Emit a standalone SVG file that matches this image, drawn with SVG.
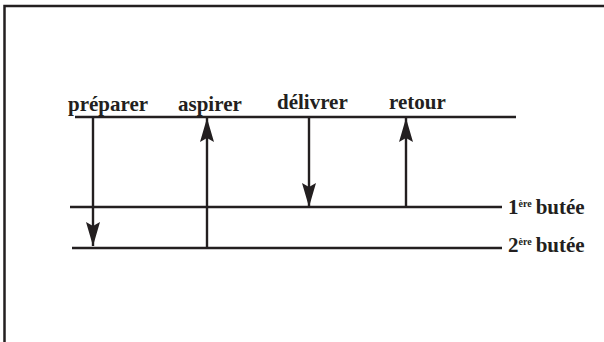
<svg xmlns="http://www.w3.org/2000/svg" width="604" height="342" viewBox="0 0 604 342">
<style>
.ln{stroke:#231f20;stroke-width:2.4;fill:none}
.frame{stroke:#231f20;stroke-width:2.5;fill:none}
text{font-family:'Liberation Serif','Times New Roman',serif;font-weight:700;font-size:21px;fill:#231f20}
.sup{font-size:10px}
</style>
<defs>
<marker id="ah" viewBox="0 0 24 14" refX="24" refY="7" markerWidth="24" markerHeight="14" markerUnits="userSpaceOnUse" orient="auto">
<path d="M0,0 L24,7 L0,14 L4,7 Z" fill="#231f20"/>
</marker>
</defs>
<rect width="604" height="342" fill="#fff"/>
<path class="frame" d="M4.5,342 V6 H604"/>
<g id="levels">
<g id="level-top"><line class="ln" x1="75" y1="117" x2="516" y2="117"/></g>
<g id="level-1"><line class="ln" x1="70" y1="207" x2="502" y2="207"/><text x="508" y="214">1<tspan class="sup" dy="-7">ère</tspan><tspan dy="7" dx="4">butée</tspan></text></g>
<g id="level-2"><line class="ln" x1="72" y1="248" x2="502" y2="248"/><text x="508" y="252">2<tspan class="sup" dy="-7">ère</tspan><tspan dy="7" dx="4">butée</tspan></text></g>
</g>
<g id="preparer"><text x="68" y="111">préparer</text></g>
<g id="aspirer"><text x="178" y="111">aspirer</text></g>
<g id="delivrer"><text x="277" y="109">délivrer</text></g>
<g id="retour"><text x="389" y="109">retour</text></g>
<g id="connectors">
<line class="ln" x1="93" y1="117" x2="93" y2="246" marker-end="url(#ah)"/>
<line class="ln" x1="207" y1="248" x2="207" y2="118" marker-end="url(#ah)"/>
<line class="ln" x1="309" y1="117" x2="309" y2="207" marker-end="url(#ah)"/>
<line class="ln" x1="406" y1="207" x2="406" y2="118" marker-end="url(#ah)"/>
</g>
</svg>
